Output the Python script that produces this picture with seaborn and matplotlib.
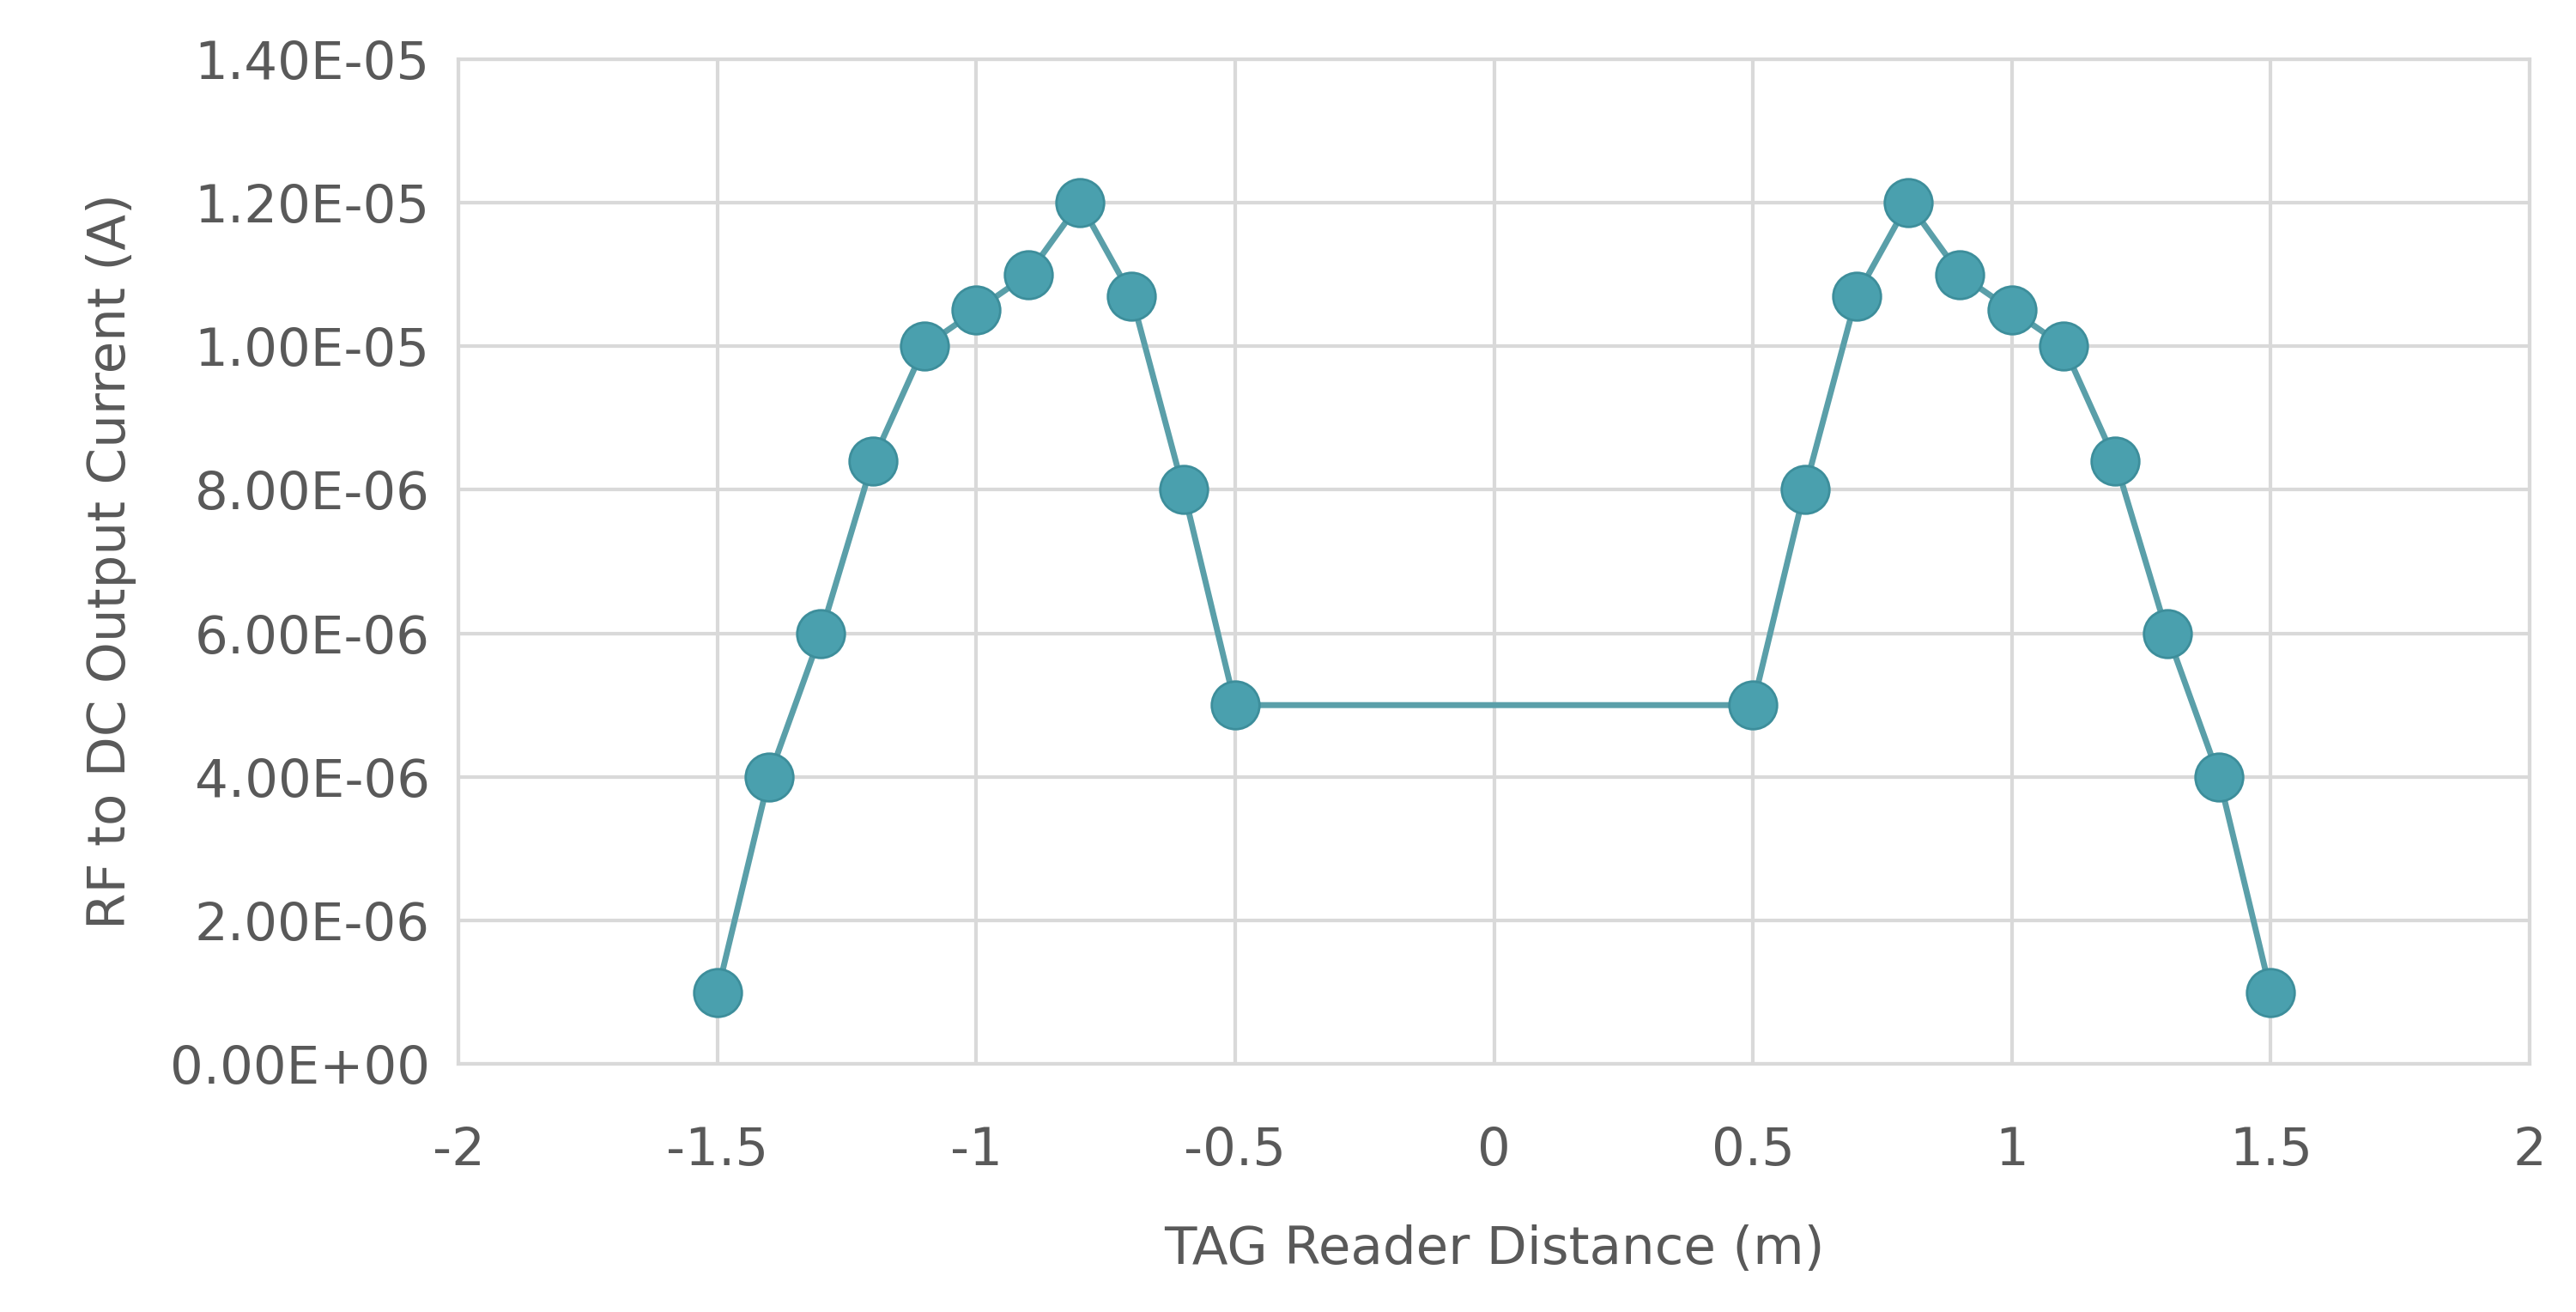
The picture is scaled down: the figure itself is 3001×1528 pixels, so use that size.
import matplotlib
matplotlib.use("Agg")
import matplotlib.pyplot as plt
import seaborn as sns
import pandas as pd
from matplotlib.ticker import FuncFormatter, MultipleLocator

distance = [-1.5, -1.4, -1.3, -1.2, -1.1, -1.0, -0.9, -0.8, -0.7, -0.6, -0.5,
            0.5, 0.6, 0.7, 0.8, 0.9, 1.0, 1.1, 1.2, 1.3, 1.4, 1.5]
current = [1.0e-6, 4.0e-6, 6.0e-6, 8.4e-6, 1.0e-5, 1.05e-5, 1.1e-5, 1.2e-5, 1.07e-5, 8.0e-6, 5.0e-6,
           5.0e-6, 8.0e-6, 1.07e-5, 1.2e-5, 1.1e-5, 1.05e-5, 1.0e-5, 8.4e-6, 6.0e-6, 4.0e-6, 1.0e-6]

df = pd.DataFrame({"x": distance, "y": current})

sns.set_style("white")
plt.rcParams['font.family'] = ['DejaVu Sans']
fig, ax = plt.subplots(figsize=(15.005, 7.64), dpi=200)
fig.subplots_adjust(left=0.178, right=0.982, top=0.955, bottom=0.189)

sns.lineplot(data=df, x="x", y="y", ax=ax, color="#5a9fa9", linewidth=2.5,
             marker="o", markersize=20, markerfacecolor="#4aa0ae",
             markeredgecolor="#3d8e9b", markeredgewidth=1.0, zorder=3)

ax.set_xlim(-2, 2)
ax.set_ylim(0, 1.4e-5)
ax.xaxis.set_major_locator(MultipleLocator(0.5))
ax.yaxis.set_major_locator(MultipleLocator(2e-6))
ax.xaxis.set_major_formatter(FuncFormatter(lambda v, p: f"{v:g}"))
ax.yaxis.set_major_formatter(FuncFormatter(lambda v, p: f"{v:.2E}"))
ax.grid(True, color="#d9d9d9", linewidth=1.5)
for s in ax.spines.values():
    s.set_color("#d9d9d9")
    s.set_linewidth(1.5)
ax.tick_params(colors="#595959", labelsize=22, length=0)
ax.tick_params(axis="x", pad=26)
ax.tick_params(axis="y", pad=12)
ax.set_xlabel("TAG Reader Distance (m)", fontsize=22, color="#595959", labelpad=20)
ax.set_ylabel("RF to DC Output Current (A)", fontsize=22, color="#595959", labelpad=14)

fig.savefig("out.png", dpi=200)
